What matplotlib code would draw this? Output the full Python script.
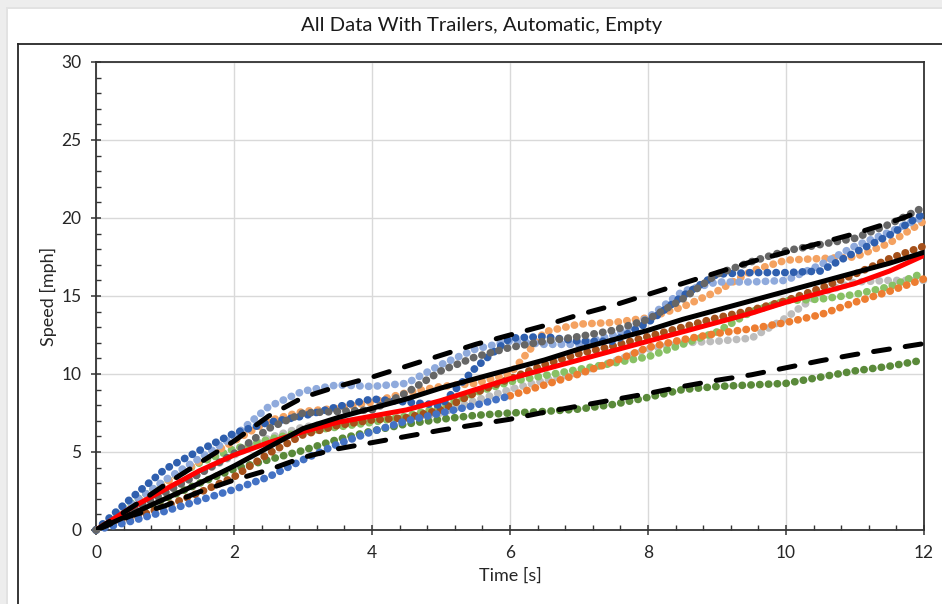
import matplotlib
matplotlib.use("Agg")
import matplotlib.pyplot as plt
from matplotlib.lines import Line2D
from matplotlib.patches import Rectangle
from matplotlib.ticker import MultipleLocator

# ---------------- data ----------------
T = [0, 0.5, 1, 1.5, 2, 2.5, 3, 3.5, 4, 4.5, 5, 5.5, 6,
     6.5, 7, 7.5, 8, 8.5, 9, 9.5, 10, 10.5, 11, 11.5, 12]
T_first = T[:13]    # 0 .. 6 s
T_second = T[12:]   # 6 .. 12 s

light_gray = [0, 1.2, 2.4, 3.6, 4.8, 5.9, 6.6, 6.9, 7.0, 7.2, 7.5, 8.3, 9.0,
              9.6, 10.1, 10.8, 11.6, 12.0, 12.1, 12.3, 13.6, 15.2, 15.9, 16.0, 16.0]
light_green = [0, 1.7, 3.1, 4.3, 5.2, 5.8, 6.3, 6.6, 6.9, 7.3, 7.9, 8.8, 9.5,
               9.9, 10.3, 10.7, 11.1, 11.9, 12.7, 14.0, 14.7, 14.8, 15.1, 15.6, 16.5]
dark_green = [0, 1.0, 2.0, 3.0, 3.9, 4.5, 5.1, 5.8, 6.35, 6.8, 7.1, 7.35, 7.5,
              7.6, 7.75, 8.05, 8.5, 9.0, 9.2, 9.3, 9.4, 9.8, 10.2, 10.5, 10.9]
brown = [0, 0.7, 1.5, 2.4, 3.4, 4.9, 6.1, 6.7, 7.05, 7.2, 7.7, 8.8, 9.7,
         10.6, 11.3, 11.8, 12.4, 13.0, 13.6, 14.1, 14.7, 15.5, 16.4, 17.4, 18.2]
light_orange = [0, 1.5, 3.0, 4.4, 5.7, 7.0, 7.6, 7.8, 8.2, 8.8, 9.2, 9.4, 10.0,
                12.7, 13.2, 13.3, 13.6, 14.3, 15.3, 16.6, 17.3, 17.4, 17.5, 18.4, 19.8]
light_blue = [0, 1.6, 3.2, 4.6, 6.0, 7.9, 8.9, 9.3, 9.2, 9.4, 10.6, 11.6, 12.1,
              11.9, 11.9, 12.5, 13.6, 15.3, 15.9, 15.9, 16.0, 17.0, 18.2, 19.1, 20.1]
dark_blue = [0, 2.0, 3.9, 5.1, 6.2, 6.9, 7.3, 7.9, 8.4, 8.2, 8.0, 10.4, 12.3,
             12.4, 12.1, 12.1, 13.3, 15.0, 16.4, 16.5, 16.5, 16.6, 17.8, 18.9, 20.3]
dark_gray = [0, 1.2, 2.4, 3.6, 4.9, 6.5, 7.5, 7.6, 7.7, 8.8, 10.2, 11.1, 11.7,
             12.1, 12.4, 12.8, 13.5, 14.8, 16.4, 17.2, 17.9, 18.3, 18.7, 19.6, 20.7]
blue_first = [0, 0.55, 1.2, 1.9, 2.6, 3.4, 4.5, 5.5, 6.3, 7.0, 7.5, 8.0, 8.6]
orange_second = [8.6, 9.3, 10.0, 10.8, 11.7, 12.2, 12.6, 12.9, 13.3, 13.8, 14.6, 15.3, 16.1]

red_line = [0, 1.4, 2.6, 3.8, 4.8, 5.6, 6.3, 6.9, 7.3, 7.7, 8.3, 9.0, 9.7,
            10.3, 10.9, 11.5, 12.1, 12.7, 13.3, 13.9, 14.6, 15.2, 15.8, 16.6, 17.6]
average = [0, 1.0, 2.0, 3.0, 4.1, 5.3, 6.5, 7.2, 7.8, 8.4, 9.1, 9.7, 10.3,
           10.9, 11.6, 12.2, 12.8, 13.5, 14.1, 14.7, 15.3, 15.9, 16.5, 17.1, 17.8]
upper_bound = [0, 1.4, 2.9, 4.3, 5.7, 7.3, 8.5, 9.2, 9.8, 10.5, 11.2, 11.9, 12.5,
               13.1, 13.8, 14.4, 15.1, 15.8, 16.5, 17.2, 17.8, 18.4, 19.0, 19.7, 20.5]
lower_bound = [0, 0.9, 1.55, 2.45, 3.2, 3.85, 4.65, 5.2, 5.6, 6.0, 6.4, 6.75, 7.1,
               7.55, 7.95, 8.35, 8.75, 9.2, 9.6, 9.95, 10.4, 10.85, 11.25, 11.6, 11.95]

TITLE = "All Data With Trailers, Automatic, Empty"
XLABEL = "Time [s]"
YLABEL = "Speed [mph]"

# ---------------- figure ----------------
W, H = 942, 604
fig = plt.figure(figsize=(W / 100, H / 100), dpi=100, facecolor="#EDEDED")
FONT = ["Lato", "DejaVu Sans"]

# white chart card with faint shadow
fig.add_artist(Rectangle((6 / W, 0), 1, 1 - 7 / H, transform=fig.transFigure,
                         facecolor="#E2E2E2", edgecolor="none", zorder=0))
fig.add_artist(Rectangle((8 / W, 0), 1, 1 - 9 / H, transform=fig.transFigure,
                         facecolor="white", edgecolor="none", zorder=0))
# frame lines of the inner box
fig.add_artist(Line2D([18 / W, 1.0], [1 - 44 / H, 1 - 44 / H], transform=fig.transFigure,
                      color="#262626", lw=1.3, zorder=1))
fig.add_artist(Line2D([18 / W, 18 / W], [0, 1 - 44 / H], transform=fig.transFigure,
                      color="#262626", lw=1.3, zorder=1))

fig.text(482 / W, 1 - 25 / H, TITLE, ha="center", va="center",
         fontsize=14.6, family=FONT, color="#1a1a1a")

ax = fig.add_axes([96 / W, 1 - 530 / H, 828 / W, 468 / H])
ax.set_facecolor("white")
ax.set_xlim(0, 12)
ax.set_ylim(0, 30)

ax.xaxis.set_major_locator(MultipleLocator(2))
ax.xaxis.set_minor_locator(MultipleLocator(0.4))
ax.yaxis.set_major_locator(MultipleLocator(5))
ax.yaxis.set_minor_locator(MultipleLocator(1))
ax.grid(True, which="major", color="#D9D9D9", lw=1.0, zorder=0)
ax.set_axisbelow(True)

for s in ax.spines.values():
    s.set_color("#333333")
    s.set_linewidth(1.3)

ax.tick_params(which="major", direction="inout", length=7, width=1.1, color="#333333",
               labelsize=12.5, labelcolor="#262626", pad=7)
ax.tick_params(which="minor", direction="in", length=3.5, width=1.0, color="#333333")
ax.tick_params(axis="x", which="both", top=False)
ax.tick_params(axis="y", which="both", right=False)
for lab in ax.get_xticklabels() + ax.get_yticklabels():
    lab.set_family(FONT)

ax.set_xlabel(XLABEL, fontsize=13, family=FONT, color="#262626", labelpad=5)
ax.set_ylabel(YLABEL, fontsize=13, family=FONT, color="#262626", labelpad=3)

DOT_LW = 5.5
dot_style = dict(lw=DOT_LW, linestyle=(0, (0.05, 1.1)), dash_capstyle="round",
                 clip_on=False)

dotted = [
    (T, light_gray, "#BDBDBD"),
    (T, light_green, "#88C165"),
    (T, dark_green, "#5A8A3A"),
    (T, brown, "#A5501A"),
    (T_second, orange_second, "#ED7D31"),
    (T, light_orange, "#F4A261"),
    (T_first, blue_first, "#4472C4"),
    (T, light_blue, "#8FAADC"),
    (T, dark_blue, "#2F5FAE"),
    (T, dark_gray, "#666666"),
]
for i, (x, y, c) in enumerate(dotted):
    ax.plot(x, y, color=c, zorder=3 + i * 0.01, **dot_style)

ax.plot(T, red_line, color="#FF0000", lw=3.6, zorder=5, solid_capstyle="round")
ax.plot(T, average, color="black", lw=3.6, zorder=6, solid_capstyle="round")
ax.plot(T, upper_bound, color="black", lw=3.6, zorder=7, linestyle=(0, (3.2, 3.2)),
        dash_capstyle="round")
ax.plot(T, lower_bound, color="black", lw=3.6, zorder=7, linestyle=(0, (3.2, 3.2)),
        dash_capstyle="round")

fig.savefig("out.png", dpi=100, facecolor=fig.get_facecolor())
